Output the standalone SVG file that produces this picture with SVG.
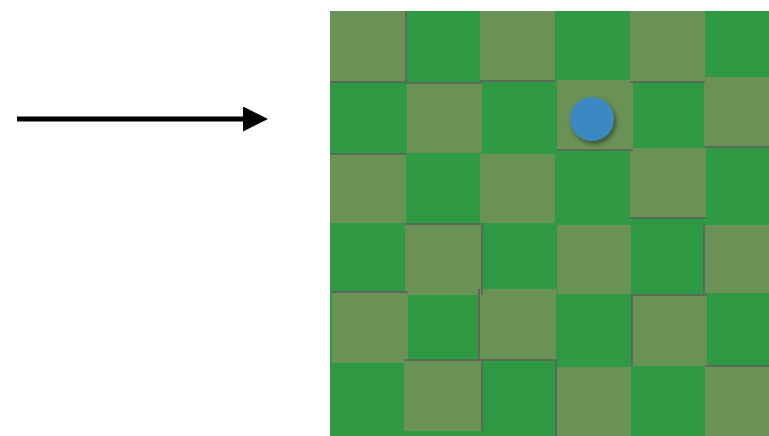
<svg xmlns="http://www.w3.org/2000/svg" width="769" height="436" viewBox="0 0 769 436">
  <style>
    .bg { fill: #2f9944; }
    .tile { fill: #6b9256; }
    .edge { stroke: #5e5e5e; stroke-width: 1.5; fill: none; }
    .arrow { stroke: #000; stroke-width: 5; fill: none; }
  </style>
  <defs>
    <marker id="head" markerWidth="25" markerHeight="25" refX="0" refY="12.5" orient="auto" markerUnits="userSpaceOnUse">
      <path d="M0,0 L25,12.5 L0,25 Z" fill="#000"/>
    </marker>
    <filter id="shadow" x="-50%" y="-50%" width="200%" height="200%">
      <feDropShadow dx="2" dy="3" stdDeviation="2.5" flood-color="#000" flood-opacity="0.45"/>
    </filter>
  </defs>

  <g id="connectors">
    <line class="arrow" x1="17" y1="119" x2="243" y2="119" marker-end="url(#head)"/>
  </g>

  <g id="board">
    <rect class="bg" x="330" y="11" width="439" height="425"/>
    <!-- row 0 -->
    <rect class="tile" x="330" y="11" width="76" height="71"/>
    <rect class="tile" x="480" y="11" width="75" height="70"/>
    <rect class="tile" x="630" y="11" width="75" height="71"/>
    <!-- row 1 -->
    <rect class="tile" x="407" y="83" width="75" height="70"/>
    <rect class="tile" x="557" y="80" width="76" height="70"/>
    <rect class="tile" x="704" y="77" width="65" height="70"/>
    <!-- row 2 -->
    <rect class="tile" x="330" y="154" width="76" height="69"/>
    <rect class="tile" x="480" y="154" width="75" height="69"/>
    <rect class="tile" x="630" y="148" width="76" height="70"/>
    <!-- row 3 -->
    <rect class="tile" x="405" y="224" width="77" height="71"/>
    <rect class="tile" x="557" y="225" width="74" height="69"/>
    <rect class="tile" x="704" y="225" width="65" height="68"/>
    <!-- row 4 -->
    <rect class="tile" x="332" y="292" width="76" height="71"/>
    <rect class="tile" x="479" y="289" width="77" height="71"/>
    <rect class="tile" x="632" y="295" width="75" height="71"/>
    <!-- row 5 -->
    <rect class="tile" x="404" y="360" width="78" height="71"/>
    <rect class="tile" x="557" y="367" width="74" height="69"/>
    <rect class="tile" x="705" y="366" width="64" height="70"/>
    <!-- edges -->
    <path class="edge" d="M330,82 H406 V11 M480,81 H555 M630,82 H705 M407,83 H482 M557,150 H633 M704,147 H769 M330,154 H406 M630,218 H706 M405,224 H482 V295 M704,225 V293 M332,292 H408 M479,289 V360 H556 V436 M632,295 H707 M632,295 V366 M404,360 H482 V431 M705,366 H769"/>
  </g>

  <g id="piece">
    <circle cx="592" cy="119" r="22" fill="#3a88c3" filter="url(#shadow)"/>
  </g>
</svg>
